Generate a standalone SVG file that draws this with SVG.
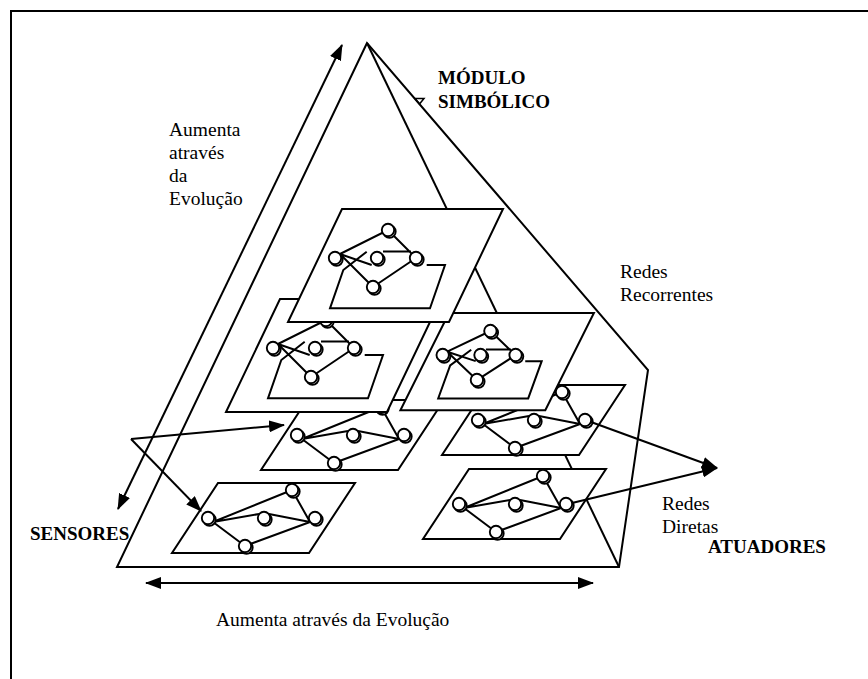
<svg xmlns="http://www.w3.org/2000/svg" xmlns:xlink="http://www.w3.org/1999/xlink" width="868" height="679" viewBox="0 0 868 679">
<style>
.ln{fill:none;stroke:#000;stroke-width:2;vector-effect:non-scaling-stroke}
.pl{fill:#fff;stroke:#000;stroke-width:2;vector-effect:non-scaling-stroke}
.nd{fill:#fff;stroke:#000;stroke-width:1.9}
.ar{fill:none;stroke:#000;stroke-width:2}
.r{font-family:"Liberation Serif","Times New Roman",serif;font-size:19.5px;fill:#000}
.b{font-family:"Liberation Serif","Times New Roman",serif;font-size:19px;font-weight:bold;fill:#000}
</style>
<defs>
<marker id="ah" markerUnits="userSpaceOnUse" markerWidth="16" markerHeight="12" refX="15" refY="6" orient="auto-start-reverse" viewBox="0 0 16 12"><path d="M0,0 L16,6 L0,12 z" fill="#000"/></marker>
<g id="nd"><circle cx="1.5" cy="1.6" r="6.2" class="nd"/><circle cx="0" cy="0" r="6.2" class="nd"/></g>
<polygon id="recPlane" class="pl" points="0,0 161,0 107,113 -54,113"/>
<path id="recLines" class="ln" d="M-2,45 L46,21 L74,49 M41,42.5 L69,42.5 M-2,45 L31,78 M-2,45 L29.7,56 M84.7,56 L103,56 L88,99.3 L-12,99.3 L1.3,61 L24.7,42.7 M31,78 L74,49"/>
<polygon id="ffPlane" class="pl" points="0,0 137,0 91,70 -46,70"/>
<path id="ffLines" class="ln" d="M-5,39 L74,7 M-5,39 L41,31 M51,31 L92,39 M-5,39 L27,63 M74,7 L92,39 M27,63 L92,39"/>
</defs>

<path class="ln" d="M11,679 V11 H868" stroke="#222"/>

<g id="pyramid">
<path class="ln" d="M367,43 L117,567 L619,567 L648,370 Z"/>
<path class="ln" d="M367,43 L619,567"/>
<polygon points="415,98.5 424,98.5 419.5,104" fill="none" stroke="#000" stroke-width="1.5"/>
</g>

<g id="plane-F">
<g transform="translate(218,483)"><use href="#ffPlane"/><use href="#ffLines"/></g>
<use href="#nd" x="292" y="490"/><use href="#nd" x="208" y="518"/><use href="#nd" x="264" y="518"/><use href="#nd" x="315" y="518"/><use href="#nd" x="245" y="546"/>
</g>
<g id="plane-G">
<g transform="translate(469,469)"><use href="#ffPlane"/><use href="#ffLines"/></g>
<use href="#nd" x="543" y="476"/><use href="#nd" x="459" y="504"/><use href="#nd" x="515" y="504"/><use href="#nd" x="566" y="504"/><use href="#nd" x="496" y="532"/>
</g>
<g id="plane-D">
<g transform="translate(307,400)"><use href="#ffPlane"/><use href="#ffLines"/></g>
<use href="#nd" x="381" y="407"/><use href="#nd" x="297" y="435"/><use href="#nd" x="353" y="435"/><use href="#nd" x="404" y="435"/><use href="#nd" x="334" y="463"/>
</g>
<g id="plane-E">
<g transform="translate(488,385)"><use href="#ffPlane"/><use href="#ffLines"/></g>
<use href="#nd" x="562" y="392"/><use href="#nd" x="478" y="420"/><use href="#nd" x="534" y="420"/><use href="#nd" x="585" y="420"/><use href="#nd" x="515" y="448"/>
</g>
<g id="plane-B">
<g transform="translate(280,299)"><use href="#recPlane"/><use href="#recLines"/></g>
<use href="#nd" x="326" y="320"/><use href="#nd" x="273" y="348"/><use href="#nd" x="315" y="348"/><use href="#nd" x="354" y="348"/><use href="#nd" x="311" y="377"/>
</g>
<g id="plane-C">
<g transform="translate(449,313) scale(0.9,0.86)"><use href="#recPlane"/><use href="#recLines"/></g>
<use href="#nd" x="490.4" y="331"/><use href="#nd" x="442.7" y="355"/><use href="#nd" x="480.5" y="355"/><use href="#nd" x="515.6" y="355"/><use href="#nd" x="476.9" y="380"/>
</g>
<g id="plane-A">
<g transform="translate(342,209)"><use href="#recPlane"/><use href="#recLines"/></g>
<use href="#nd" x="388" y="230"/><use href="#nd" x="335" y="258"/><use href="#nd" x="377" y="258"/><use href="#nd" x="416" y="258"/><use href="#nd" x="373" y="287"/>
</g>

<g id="connectors">
<path class="ar" d="M342,45 L118,509" marker-start="url(#ah)" marker-end="url(#ah)"/>
<path class="ar" d="M146,583 L593,583" marker-start="url(#ah)" marker-end="url(#ah)"/>
<path class="ar" d="M131,439 L284,425" marker-end="url(#ah)"/>
<path class="ar" d="M131,439 L201,511" marker-end="url(#ah)"/>
<path class="ar" d="M591,422 L717,468" marker-end="url(#ah)"/>
<path class="ar" d="M572,503 L717,468" marker-end="url(#ah)"/>
</g>

<g id="labels">
<text class="b" x="438" y="84">MÓDULO</text>
<text class="b" x="438" y="108">SIMBÓLICO</text>
<text class="r" x="169" y="136">Aumenta</text>
<text class="r" x="169" y="159">através</text>
<text class="r" x="169" y="182">da</text>
<text class="r" x="169" y="205">Evolução</text>
<text class="r" x="620" y="278">Redes</text>
<text class="r" x="620" y="301">Recorrentes</text>
<text class="r" x="662" y="510">Redes</text>
<text class="r" x="662" y="533">Diretas</text>
<text class="b" x="708" y="553">ATUADORES</text>
<text class="b" x="30" y="540">SENSORES</text>
<text class="r" x="216" y="626">Aumenta através da Evolução</text>
</g>
</svg>
